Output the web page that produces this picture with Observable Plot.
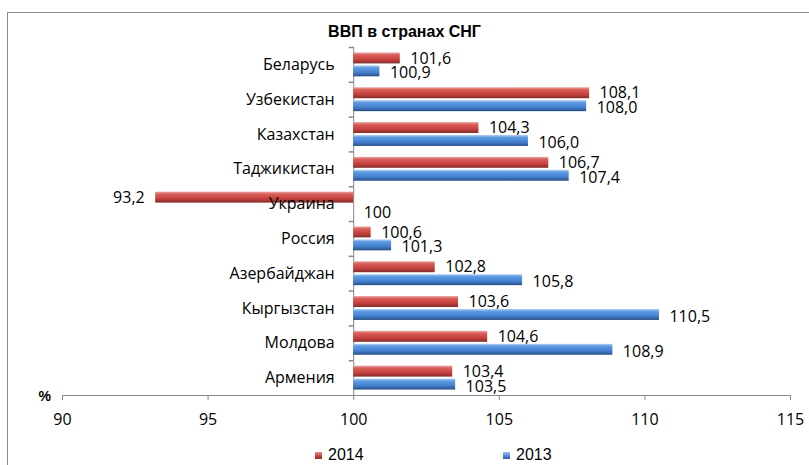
<!DOCTYPE html>
<html>
<head>
<meta charset="utf-8">
<script src="https://cdn.jsdelivr.net/npm/d3@7"></script>
<script src="https://cdn.jsdelivr.net/npm/@observablehq/plot@0.6"></script>
<style>
  html, body { margin: 0; padding: 0; background: #fff; overflow: hidden; }
  #wrap { position: relative; width: 809px; height: 465px; overflow: hidden; }
  #border { position: absolute; left: 7px; top: 12px; width: 900px; height: 600px; border: 1px solid #8c8c8c; box-sizing: border-box; }
  #title { position: absolute; left: 0; top: 22px; width: 809px; text-align: center; font: bold 16px "Liberation Sans", Arial, sans-serif; line-height: 20px; color: #000; }
  #chart { position: absolute; left: 0; top: 0; }
  #legend { position: absolute; left: 0; top: 446px; width: 809px; height: 18px; font: 16px "Liberation Sans", Arial, sans-serif; color: #000; }
  .item { position: absolute; top: 0; height: 18px; display: flex; align-items: center; }
  .sw { width: 7px; height: 7px; margin-right: 6px; }
</style>
</head>
<body>
<div id="wrap">
  <div id="border"></div>
  <div id="chart"></div>
  <div id="title"></div>
  <div id="legend"></div>
</div>
<script>
// ---- data ----
const title = "ВВП в странах СНГ";
const countries = ["Беларусь", "Узбекистан", "Казахстан", "Таджикистан", "Украина", "Россия", "Азербайджан", "Кыргызстан", "Молдова", "Армения"];
const seriesNames = ["2014", "2013"];
const values2014 = [101.6, 108.1, 104.3, 106.7, 93.2, 100.6, 102.8, 103.6, 104.6, 103.4];
const values2013 = [100.9, 108.0, 106.0, 107.4, 100, 101.3, 105.8, 110.5, 108.9, 103.5];
const xTicks = [90, 95, 100, 105, 110, 115];
const xDomain = [90, 115];
const baseline = 100;
const unitLabel = "%";

// ---- table ----
const rows = countries.flatMap((c, i) => [
  {country: c, year: seriesNames[0], value: values2014[i]},
  {country: c, year: seriesNames[1], value: values2013[i]}
]);
const fmt = v => v === baseline ? String(v) : v.toFixed(1).replace(".", ",");

const W = 809, H = 440, mt = 47, mb = 45, ml = 62, mr = 19;
const labelFont = "'Open Sans', 'Noto Sans', sans-serif";
const gray = "#888888";

const tickSymbol = {draw(ctx) { ctx.moveTo(0, 0); ctx.lineTo(-5, 0); }};

const chart = Plot.plot({
  width: W, height: H,
  marginTop: mt, marginBottom: mb, marginLeft: ml, marginRight: mr,
  style: {fontFamily: labelFont, fontSize: "16px", color: "#000", background: "transparent", overflow: "visible"},
  x: {domain: xDomain},
  y: {domain: seriesNames, paddingInner: 0.154, paddingOuter: 0.423, axis: null, round: false},
  fy: {domain: countries, padding: 0, axis: null, round: false},
  marks: [
    Plot.ruleX(countries, {fy: d => d, x: () => baseline, stroke: gray}),
    Plot.dot(countries, {fy: d => d, x: () => baseline, frameAnchor: "top", symbol: tickSymbol, r: 3, stroke: gray, fill: "none"}),
    Plot.barX(rows.filter(d => d.year === seriesNames[0]), {fy: "country", y: "year", x1: () => baseline, x2: "value", fill: "url(#g2014)"}),
    Plot.barX(rows.filter(d => d.year === seriesNames[1]), {fy: "country", y: "year", x1: () => baseline, x2: "value", fill: "url(#g2013)"}),
    Plot.frame({anchor: "bottom", facetAnchor: "bottom", stroke: gray}),
    Plot.axisX({ticks: xTicks, tickSize: 5, tickPadding: 13, stroke: gray, color: "#000", fontSize: 16, label: null, tickFormat: d => String(d)}),
    Plot.text(countries, {fy: d => d, x: () => baseline, text: d => d, textAnchor: "end", dx: -19, fontSize: 16}),
    Plot.text(rows.filter(d => d.value >= baseline && d.year === seriesNames[0]), {fy: "country", y: "year", x: "value", text: d => fmt(d.value), textAnchor: "start", dx: 10, dy: 0, fontSize: 16}),
    Plot.text(rows.filter(d => d.value >= baseline && d.year === seriesNames[1]), {fy: "country", y: "year", x: "value", text: d => fmt(d.value), textAnchor: "start", dx: 10, dy: 2, fontSize: 16}),
    Plot.text(rows.filter(d => d.value < baseline), {fy: "country", y: "year", x: "value", text: d => fmt(d.value), textAnchor: "end", dx: -11, fontSize: 16}),
    Plot.text([unitLabel], {fy: () => countries[countries.length - 1], frameAnchor: "bottom-left", text: d => d, dx: -24, dy: 5, fontWeight: "bold", fontSize: 14, fontFamily: "'Liberation Sans', Arial, sans-serif"})
  ]
});

// gradients for the bevelled bars
const svg = d3.select(chart);
const defs = svg.insert("defs", ":first-child");
const grads = {
  g2014: [["0%", "#eaa7a5"], ["22%", "#d95e5a"], ["60%", "#c8433f"], ["85%", "#a53532"], ["100%", "#76302e"]],
  g2013: [["0%", "#b6d2f2"], ["22%", "#5e9ae2"], ["60%", "#4684d2"], ["85%", "#3466a8"], ["100%", "#254a7c"]]
};
for (const [id, stops] of Object.entries(grads)) {
  const g = defs.append("linearGradient").attr("id", id).attr("x1", 0).attr("y1", 0).attr("x2", 0).attr("y2", 1);
  for (const [o, c] of stops) g.append("stop").attr("offset", o).attr("stop-color", c);
}
document.getElementById("chart").appendChild(chart);
document.getElementById("title").textContent = title;

// legend
const legend = document.getElementById("legend");
const legendColors = {"2014": "linear-gradient(#e58f8c, #c0403c 60%, #8e2f2c)", "2013": "linear-gradient(#9fc2ee, #4a86d4 60%, #2c5a96)"};
const legendLeft = {"2014": 315, "2013": 503};
for (const name of seriesNames) {
  const it = document.createElement("div");
  it.className = "item";
  it.style.left = legendLeft[name] + "px";
  it.innerHTML = `<span class="sw" style="background:${legendColors[name]};margin-right:6px"></span><span>${name}</span>`;
  legend.appendChild(it);
}
</script>
</body>
</html>
